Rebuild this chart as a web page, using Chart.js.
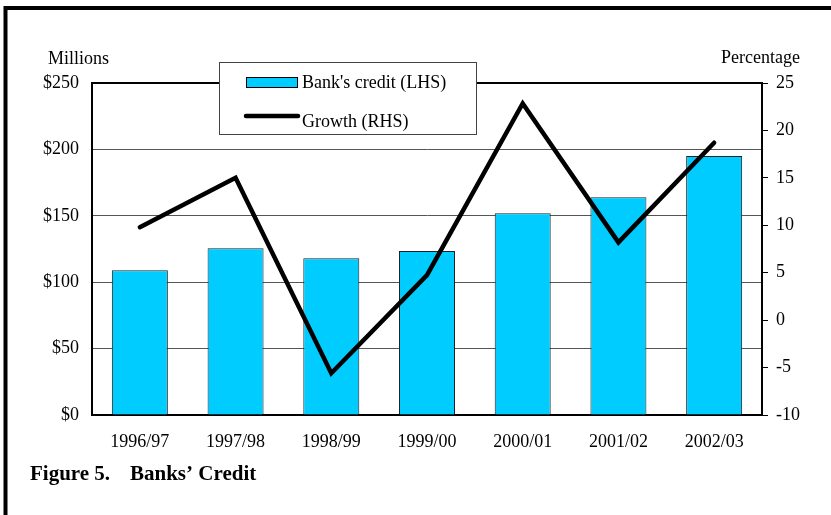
<!DOCTYPE html>
<html>
<head>
<meta charset="utf-8">
<script src="https://cdn.jsdelivr.net/npm/chart.js@4"></script>
<style>
  body { margin: 0; background: #fff; }
  #wrap { width: 831px; height: 515px; }
</style>
</head>
<body>
<div id="wrap"><canvas id="myChart" width="831" height="515"></canvas></div>
<script>
// data
const years = ['1996/97', '1997/98', '1998/99', '1999/00', '2000/01', '2001/02', '2002/03'];
const credit = [109, 125.5, 118, 123.5, 152, 164, 195];      // $ millions (LHS)
const growth = [9.8, 15, -5.6, 4.75, 22.85, 8.2, 18.7];      // percent (RHS)
const legendLabels = ["Bank's credit (LHS)", 'Growth (RHS)'];

const FONT = "'Liberation Serif', 'Times New Roman', serif";
const CYAN = '#00CCFF';

Chart.defaults.font.family = FONT;
Chart.defaults.font.size = 18;
Chart.defaults.color = '#000';

const ctx = document.getElementById('myChart').getContext('2d');

// frame, axis titles, figure caption and the boxed legend
const extras = {
    id: 'extras',
    beforeDraw(chart) {
        const c = chart.ctx;
        c.save();
        c.fillStyle = '#fff';
        c.fillRect(0, 0, chart.width, chart.height);
        c.strokeStyle = '#000';
        c.lineWidth = 4;
        c.strokeRect(5.5, 8, 900, 600);
        c.restore();
    },
    afterDraw(chart) {
        const c = chart.ctx;
        c.save();
        c.fillStyle = '#000';
        c.textBaseline = 'alphabetic';
        c.textAlign = 'left';
        c.font = '18px ' + FONT;
        c.fillText('Millions', 48, 64);
        c.fillText('Percentage', 721, 63);

        c.font = 'bold 21px ' + FONT;
        c.fillText('Figure 5.', 30, 480);
        c.fillText('Banks\u2019 Credit', 130, 480);

        // legend box
        c.fillStyle = '#fff';
        c.fillRect(219, 62, 258, 73);
        c.strokeStyle = '#444';
        c.lineWidth = 1;
        c.strokeRect(219.5, 62.5, 257, 72);

        c.fillStyle = CYAN;
        c.fillRect(246, 77, 51, 10);
        c.strokeStyle = '#000';
        c.strokeRect(246.5, 77.5, 51, 10);

        c.lineWidth = 4.5;
        c.lineCap = 'round';
        c.beginPath();
        c.moveTo(246, 116);
        c.lineTo(298, 116);
        c.stroke();

        c.fillStyle = '#000';
        c.font = '18px ' + FONT;
        c.fillText(legendLabels[0], 302, 88);
        c.fillText(legendLabels[1], 302, 127);
        c.restore();
    }
};

const data = {
    labels: years,
    datasets: [
        {
            type: 'line',
            label: legendLabels[1],
            data: growth,
            yAxisID: 'y1',
            borderColor: '#000',
            borderWidth: 4.5,
            pointRadius: 0,
            tension: 0,
            borderJoinStyle: 'miter',
            borderCapStyle: 'round',
            order: 0
        },
        {
            type: 'bar',
            label: legendLabels[0],
            data: credit,
            yAxisID: 'y',
            backgroundColor: CYAN,
            borderColor: '#222',
            borderWidth: 1,
            barPercentage: 0.585,
            categoryPercentage: 1,
            order: 1
        }
    ]
};

const config = {
    data: data,
    options: {
        responsive: false,
        animation: false,
        devicePixelRatio: 1,
        layout: { padding: { top: 83, left: 0, right: 0, bottom: 0 } },
        plugins: {
            legend: { display: false },
            tooltip: { enabled: false }
        },
        scales: {
            x: {
                grid: { drawOnChartArea: false, drawTicks: false },
                border: { color: '#000', width: 2 },
                ticks: { padding: 16, maxRotation: 0 },
                afterFit(scale) { scale.height = 100; }
            },
            y: {
                position: 'left',
                min: 0,
                max: 250,
                ticks: {
                    stepSize: 50,
                    padding: 13,
                    callback: function (value) {
                        return '$' + value;
                    }
                },
                grid: {
                    drawTicks: false,
                    color: (c) => (c.tick && c.tick.value === 250 ? '#000' : '#555'),
                    lineWidth: (c) => (c.tick && c.tick.value === 250 ? 2 : 1)
                },
                border: { color: '#000', width: 2 },
                afterFit(scale) { scale.width = 92; }
            },
            y1: {
                position: 'right',
                min: -10,
                max: 25,
                ticks: { stepSize: 5, padding: 8 },
                grid: { drawOnChartArea: false, color: '#000', tickLength: 6 },
                border: { color: '#000', width: 2 },
                afterFit(scale) { scale.width = 69; }
            }
        }
    },
    plugins: [extras]
};

const myChart = new Chart(ctx, config);
</script>
</body>
</html>
